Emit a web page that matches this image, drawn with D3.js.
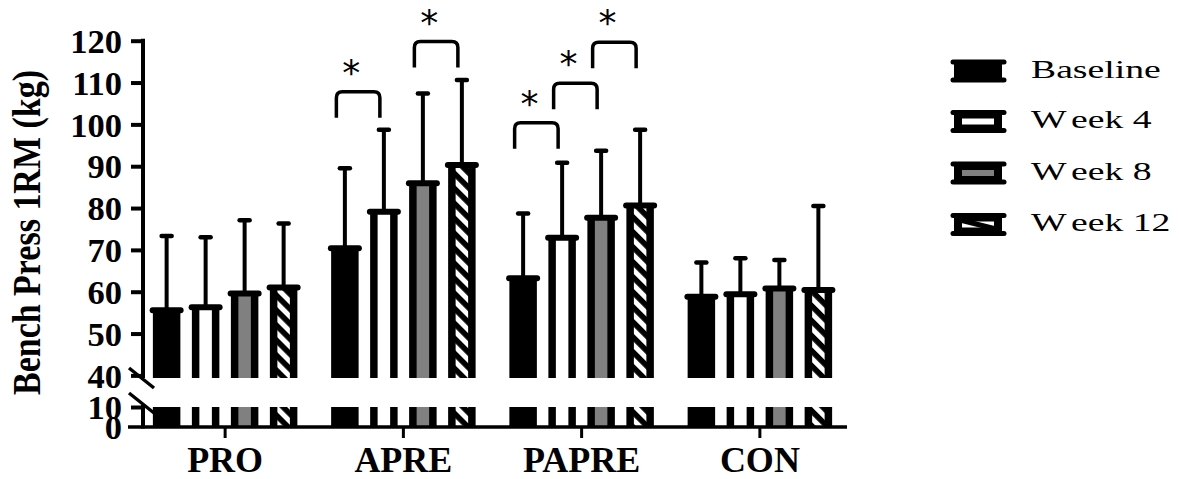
<!DOCTYPE html>
<html>
<head>
<meta charset="utf-8">
<script src="https://cdn.jsdelivr.net/npm/d3@7"></script>
<style>
  html, body { margin: 0; padding: 0; background: #fff; }
  svg { display: block; }
</style>
</head>
<body>
<svg id="chart" width="1179" height="479"></svg>
<script>
// ---- data ----
const categories = ["PRO", "APRE", "PAPRE", "CON"];
const series = ["Baseline", "Week 4", "Week 8", "Week 12"];
const baselineMean = [55.6, 70.4, 63.2, 58.8];
const week4Mean    = [56.3, 79.1, 72.9, 59.4];
const week8Mean    = [59.6, 85.9, 77.7, 60.8];
const week12Mean   = [61.0, 90.3, 80.6, 60.4];
const baselineSD = [17.7, 19.1, 15.5, 8.2];
const week4SD    = [16.7, 19.6, 17.9, 8.6];
const week8SD    = [17.5, 21.5, 16.0, 6.8];
const week12SD   = [15.3, 20.3, 18.1, 20.1];
const upperTicks = [40, 50, 60, 70, 80, 90, 100, 110, 120];
const lowerTicks = [0, 10];
const sigCats  = ["APRE", "APRE", "PAPRE", "PAPRE", "PAPRE"];
const sigFrom  = [0, 2, 0, 1, 2];
const sigTo    = [1, 3, 1, 2, 3];
const sigLevel = [107.8, 119.8, 100.4, 109.8, 119.6];

const means = [baselineMean, week4Mean, week8Mean, week12Mean];
const sds = [baselineSD, week4SD, week8SD, week12SD];

const svg = d3.select("#chart");
const serif = "'Liberation Serif', 'Times New Roman', serif";

// patterns
const defs = svg.append("defs");
const pat = defs.append("pattern")
  .attr("id", "hatch").attr("patternUnits", "userSpaceOnUse")
  .attr("width", 10.6).attr("height", 10.6)
  .attr("patternTransform", "rotate(45)");
pat.append("rect").attr("width", 10.6).attr("height", 10.6).attr("fill", "#fff");
pat.append("rect").attr("width", 10.6).attr("height", 5.6).attr("fill", "#000");

const fills = ["#000", "#fff", "#808080", "url(#hatch)"];

// scales
const x0 = d3.scaleBand().domain(categories).range([136, 849]).padding(0);
const x1 = d3.scaleBand().domain(d3.range(series.length)).range([-78, 78]).padding(0);
const yU = d3.scaleLinear().domain([40, 120]).range([375.4, 40.7]);
const yL = d3.scaleLinear().domain([0, 10]).range([427, 407]);
const upperBottom = yU(40) + 2.6;
const axisX = 143;

const cx = (ci, si) => x0(categories[ci]) + x0.bandwidth() / 2 + x1(si) + x1.bandwidth() / 2;

const barW = 20, side = 7.5;
const g = svg.append("g");

// bars
series.forEach((s, si) => {
  categories.forEach((c, ci) => {
    const m = means[si][ci], sd = sds[si][ci];
    const xc = cx(ci, si);
    const top = yU(m);
    // error bar
    g.append("line").attr("x1", xc).attr("x2", xc).attr("y1", top).attr("y2", yU(m + sd))
      .attr("stroke", "#000").attr("stroke-width", 4);
    g.append("line").attr("x1", xc - 5).attr("x2", xc + 5).attr("y1", yU(m + sd)).attr("y2", yU(m + sd))
      .attr("stroke", "#000").attr("stroke-width", 4.5).attr("stroke-linecap", "round");
    // upper and lower segments
    [[top, upperBottom], [yL(10), yL(0)]].forEach(([t, b]) => {
      g.append("rect").attr("x", xc - barW / 2).attr("y", t).attr("width", barW).attr("height", b - t)
        .attr("fill", fills[si]);
      [-1, 1].forEach(d => {
        g.append("line").attr("x1", xc + d * barW / 2).attr("x2", xc + d * barW / 2)
          .attr("y1", t).attr("y2", b).attr("stroke", "#000").attr("stroke-width", side);
      });
    });
    g.append("line").attr("x1", xc - 14).attr("x2", xc + 14).attr("y1", top).attr("y2", top)
      .attr("stroke", "#000").attr("stroke-width", 6).attr("stroke-linecap", "round");
  });
});

// significance brackets
sigCats.forEach((c, i) => {
  const ci = categories.indexOf(c);
  const xa = cx(ci, sigFrom[i]) - 8.5;
  const xb = cx(ci, sigTo[i]) - 4;
  const yt = yU(sigLevel[i]);
  const yb = yU(sigLevel[i] - 6.2);
  const r = 6;
  g.append("path")
    .attr("d", `M${xa},${yb} L${xa},${yt + r} Q${xa},${yt} ${xa + r},${yt} L${xb - r},${yt} Q${xb},${yt} ${xb},${yt + r} L${xb},${yb}`)
    .attr("fill", "none").attr("stroke", "#000").attr("stroke-width", 3.5);
  g.append("text").attr("x", (xa + xb) / 2 - 7).attr("y", yt - 7)
    .attr("text-anchor", "middle").attr("font-family", "'DejaVu Sans', sans-serif")
    .attr("font-size", 36).text("*");
});

// y axis
const axU = svg.append("g").attr("transform", `translate(${axisX},0)`)
  .call(d3.axisLeft(yU).tickValues(upperTicks).tickSize(12).tickSizeOuter(0).tickPadding(9));
const axL = svg.append("g").attr("transform", `translate(${axisX},0)`)
  .call(d3.axisLeft(yL).tickValues(lowerTicks).tickSize(12).tickSizeOuter(0).tickPadding(9));
[axU, axL].forEach(a => {
  a.select(".domain").remove();
  a.selectAll(".tick line").attr("stroke", "#000").attr("stroke-width", 4);
  a.selectAll(".tick text").attr("font-family", serif).attr("font-weight", "bold")
    .attr("font-size", 34.5).attr("fill", "#000").attr("dy", "0.34em");
});
axL.selectAll(".tick").filter(d => d === 0).select("line").remove();

svg.append("line").attr("x1", axisX).attr("x2", axisX).attr("y1", yU(120) - 2).attr("y2", upperBottom)
  .attr("stroke", "#000").attr("stroke-width", 4);
svg.append("line").attr("x1", axisX).attr("x2", axisX).attr("y1", yL(10) - 2).attr("y2", yL(0) + 1.5)
  .attr("stroke", "#000").attr("stroke-width", 4);
// break marks
[upperBottom - 10, yL(10) - 14].forEach(yy => {
  svg.append("line").attr("x1", axisX - 14).attr("x2", axisX + 11)
    .attr("y1", yy).attr("y2", yy + 20).attr("stroke", "#000").attr("stroke-width", 3.5);
});

// x axis
svg.append("line").attr("x1", axisX - 15).attr("x2", 847).attr("y1", yL(0)).attr("y2", yL(0))
  .attr("stroke", "#000").attr("stroke-width", 3.5);
categories.forEach(c => {
  const xc = x0(c) + x0.bandwidth() / 2;
  svg.append("line").attr("x1", xc).attr("x2", xc).attr("y1", yL(0)).attr("y2", yL(0) + 11)
    .attr("stroke", "#000").attr("stroke-width", 3);
  svg.append("text").attr("x", xc).attr("y", 472).attr("text-anchor", "middle")
    .attr("font-family", serif).attr("font-weight", "bold").attr("font-size", 36).text(c);
});

// y title
svg.append("text").attr("transform", `translate(40,232.5) rotate(-90) scale(1,1.15)`)
  .attr("text-anchor", "middle").attr("font-family", serif).attr("font-weight", "bold")
  .attr("font-size", 34).text("Bench Press 1RM (kg)");

// legend
const legY = [71, 121.5, 173, 224.5];
series.forEach((s, si) => {
  const yc = legY[si];
  const lg = svg.append("g");
  lg.append("rect").attr("x", 958).attr("y", yc - 7).attr("width", 40).attr("height", 14)
    .attr("fill", si === 3 ? "#fff" : fills[si]).attr("stroke", "#000").attr("stroke-width", 8);
  if (si === 3) {
    lg.append("line").attr("x1", 962).attr("x2", 994).attr("y1", yc - 4).attr("y2", yc + 4)
      .attr("stroke", "#000").attr("stroke-width", 5);
  }
  [yc - 9, yc + 9].forEach(yy => {
    lg.append("line").attr("x1", 953).attr("x2", 1004).attr("y1", yy).attr("y2", yy)
      .attr("stroke", "#000").attr("stroke-width", 5).attr("stroke-linecap", "round");
  });
  const t = svg.append("text").attr("transform", `translate(1031,${yc + 6.5}) scale(1.45,1)`)
    .attr("font-family", serif).attr("font-size", 26);
  if (s.startsWith("W")) {
    t.append("tspan").text("W");
    t.append("tspan").attr("dx", 3).text(s.slice(1));
  } else {
    t.text(s);
  }
});
</script>
</body>
</html>
